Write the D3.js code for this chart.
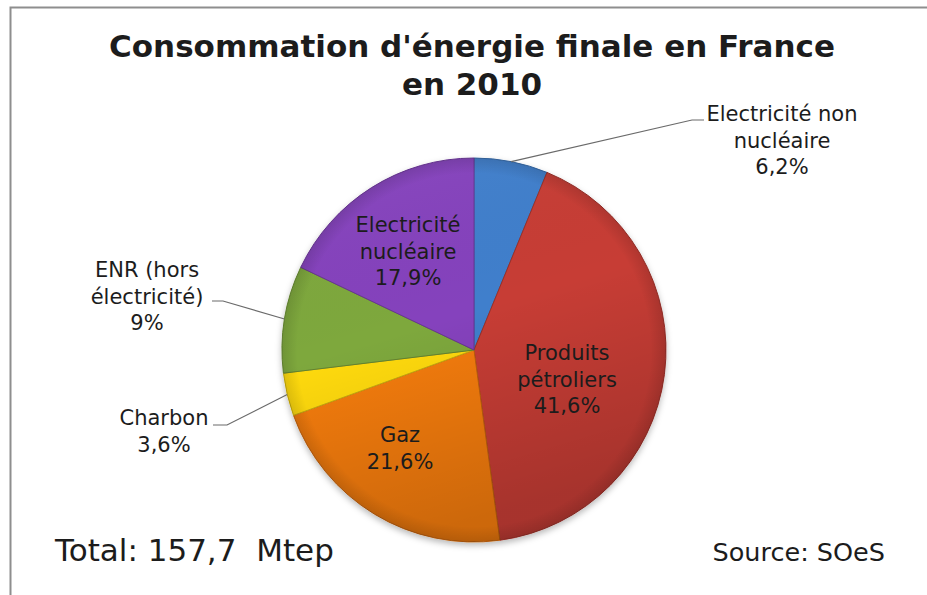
<!DOCTYPE html>
<html>
<head>
<meta charset="utf-8">
<script src="https://cdn.jsdelivr.net/npm/d3@7"></script>
<style>
  body { margin: 0; background: #fff; }
  svg { display: block; }
  text { font-family: "DejaVu Sans", Verdana, sans-serif; fill: #1c1c1c; }
</style>
</head>
<body>
<svg id="chart" width="927" height="595"></svg>
<script>
// Final energy consumption in France, 2010 (share of total, %)
const categories = [
  "Electricité non nucléaire",
  "Produits pétroliers",
  "Gaz",
  "Charbon",
  "ENR (hors électricité)",
  "Electricité nucléaire"
];
const shares = [6.2, 41.6, 21.6, 3.6, 9, 17.9];
const labelLines = [
  ["Electricité non", "nucléaire"],
  ["Produits", "pétroliers"],
  ["Gaz"],
  ["Charbon"],
  ["ENR (hors", "électricité)"],
  ["Electricité", "nucléaire"]
];
const sliceColors = ["#3f7fcc", "#c73d35", "#f47b10", "#ffda10", "#7ea83e", "#8543bd"];
const titleLines = ["Consommation d'énergie finale en France", "en 2010"];
const totalMtep = 157.7;
const sourceName = "SOeS";

// ---- layout ----
const W = 927, H = 595;
const cx = 474, cy = 350, R = 192;
const lineGap = 26.5;
// label anchor offsets from the pie centre; outside labels carry a leader stub
const labelPlacement = [
  { dx: 308, dy: -229, stub: [218, 230, -230] },
  { dx: 93, dy: 10 },
  { dx: -74, dy: 92 },
  { dx: -310, dy: 75, stub: [-247, -261, 75] },
  { dx: -327, dy: -73, stub: [-251, -262, -49] },
  { dx: -66, dy: -118 }
];

const fr = d3.formatLocale({ decimal: ",", thousands: " ", grouping: [3], currency: ["", " €"] });
const pct = fr.format(".1~f");
const num = fr.format(".1f");

const data = categories.map((c, i) => ({ name: c, share: shares[i], lines: labelLines[i], color: sliceColors[i] }));

const svg = d3.select("#chart");
const defs = svg.append("defs");

// frame
svg.append("rect")
  .attr("x", 10.5).attr("y", 7.5)
  .attr("width", W + 20).attr("height", H + 20)
  .attr("fill", "none").attr("stroke", "#8e8e8e").attr("stroke-width", 2);

// title
svg.append("g").selectAll("text").data(titleLines).join("text")
  .attr("x", 472).attr("y", (d, i) => 57 + i * 38)
  .attr("text-anchor", "middle")
  .style("font-weight", "bold").style("font-size", "31px")
  .attr("fill", "#111")
  .text(d => d);

// soft shadow + shading
const shadow = defs.append("filter").attr("id", "pieShadow")
  .attr("x", "-10%").attr("y", "-10%").attr("width", "120%").attr("height", "125%");
shadow.append("feDropShadow").attr("dx", 0).attr("dy", 3).attr("stdDeviation", 3)
  .attr("flood-color", "#000").attr("flood-opacity", 0.28);

const vShade = defs.append("linearGradient").attr("id", "vShade")
  .attr("x1", 0).attr("y1", 0).attr("x2", 0.3).attr("y2", 1);
vShade.append("stop").attr("offset", 0).attr("stop-color", "#fff").attr("stop-opacity", 0.05);
vShade.append("stop").attr("offset", 0.5).attr("stop-color", "#000").attr("stop-opacity", 0);
vShade.append("stop").attr("offset", 1).attr("stop-color", "#000").attr("stop-opacity", 0.16);

const rim = defs.append("radialGradient").attr("id", "rim");
rim.append("stop").attr("offset", 0.92).attr("stop-color", "#000").attr("stop-opacity", 0);
rim.append("stop").attr("offset", 1).attr("stop-color", "#000").attr("stop-opacity", 0.12);

const pie = d3.pie().sort(null).value(d => d.share);
const arcs = pie(data);
const arc = d3.arc().innerRadius(0).outerRadius(R);

const g = svg.append("g").attr("transform", `translate(${cx},${cy})`);

g.append("g").attr("filter", "url(#pieShadow)")
  .selectAll("path").data(arcs).join("path")
  .attr("d", arc)
  .attr("fill", d => d.data.color)
  .attr("stroke", d => d3.color(d.data.color).darker(0.7))
  .attr("stroke-width", 1)
  .attr("stroke-linejoin", "round");

g.append("circle").attr("r", R).attr("fill", "url(#vShade)").attr("pointer-events", "none");
g.append("circle").attr("r", R).attr("fill", "url(#rim)").attr("pointer-events", "none");

// leader lines for the labels placed outside the pie
arcs.forEach((a, i) => {
  const p = labelPlacement[i];
  if (!p.stub) return;
  const mid = (a.startAngle + a.endAngle) / 2;
  const e = [Math.sin(mid) * R, -Math.cos(mid) * R];
  g.append("path")
    .attr("d", d3.line()([e, [p.stub[0], p.stub[2]], [p.stub[1], p.stub[2]]]))
    .attr("fill", "none").attr("stroke", "#6a6a6a").attr("stroke-width", 1.2);
});

// labels: category lines followed by the share
const labels = g.append("g").selectAll("text").data(arcs).join("text")
  .attr("text-anchor", "middle")
  .style("font-size", "21px")
  .attr("fill", d => labelPlacement[d.index].stub ? "#3a3a3a" : "#1a1a1a");

labels.each(function(d) {
  const p = labelPlacement[d.index];
  const lines = d.data.lines.concat([pct(d.data.share) + "%"]);
  d3.select(this).selectAll("tspan").data(lines).join("tspan")
    .attr("x", p.dx)
    .attr("y", (t, k) => p.dy + k * lineGap)
    .text(t => t);
});

// footer
svg.append("text")
  .attr("x", 55).attr("y", 561)
  .style("font-size", "31px").style("white-space", "pre")
  .attr("fill", "#222")
  .text(`Total: ${num(totalMtep)}  Mtep`);

svg.append("text")
  .attr("x", 885).attr("y", 561)
  .attr("text-anchor", "end")
  .style("font-size", "25.5px")
  .attr("fill", "#333")
  .text(`Source: ${sourceName}`);
</script>
</body>
</html>
